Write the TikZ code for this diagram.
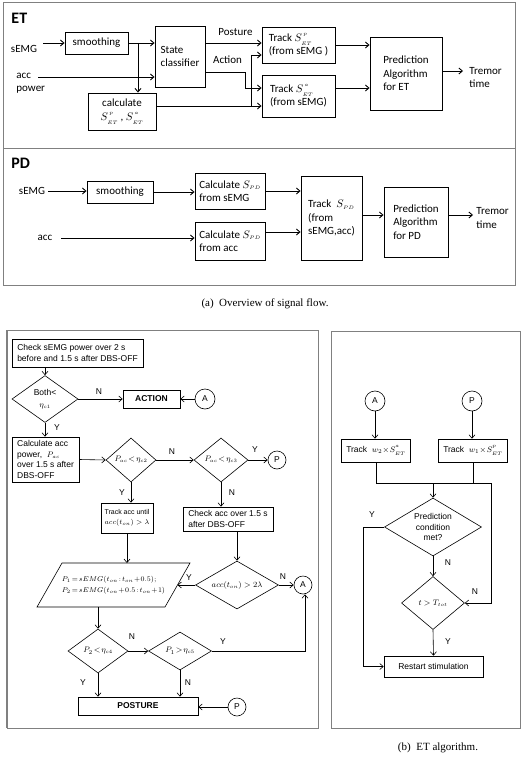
\documentclass[tikz,border=0pt]{standalone}
\usepackage{fontspec}
\setmainfont{Carlito}
\newfontfamily\arial{Liberation Sans}
\newfontfamily\timesf{Liberation Serif}
\usetikzlibrary{arrows.meta,shapes.geometric}
\newcommand{\sx}[1]{{\scriptscriptstyle #1}}
\newcommand{\supx}[1]{\raisebox{1.8pt}{$\scriptscriptstyle #1$}}
\newcommand{\subx}[1]{\raisebox{-1.2pt}{$\scriptscriptstyle #1$}}
\begin{document}
\begin{tikzpicture}[x=1pt,y=-1pt,
  >={Straight Barb[length=3.5pt,width=6pt]},
  line width=0.9pt,
  box/.style={draw, inner sep=0pt, align=left, font=\fontsize{11}{13.5}\selectfont},
  lbl/.style={inner sep=0pt, align=left, font=\fontsize{11}{13.5}\selectfont},
  headtxt/.style={inner sep=0pt, anchor=west, font=\bfseries\fontsize{16}{18}\selectfont},
  fbox/.style={draw, inner sep=0pt, line width=0.6pt, font=\arial\fontsize{8.5}{10.5}\selectfont},
  fl/.style={inner sep=0pt, font=\arial\fontsize{8.5}{10.5}\selectfont},
  dtxt/.style={inner sep=0pt, font=\arial\fontsize{8}{9.5}\selectfont},
  dia/.style={draw, diamond, inner sep=0pt, line width=0.6pt},
  circ/.style={draw, circle, inner sep=0pt, minimum size=19pt, line width=0.6pt, font=\arial\fontsize{8.5}{10}\selectfont},
  thinln/.style={line width=0.6pt},
  frame/.style={draw=gray, line width=1pt},
  captxt/.style={inner sep=0pt, font=\timesf\fontsize{11}{13}\selectfont},
]
\useasboundingbox (0,0) rectangle (525,757);

% ---------------- (a) top panel ----------------
\draw[frame] (3,3) rectangle (515,285);
\draw[frame] (3,148) -- (515,148);

% ET
\node[headtxt] (etlabel) at (11,18) {ET};
\node[lbl] (semg1) at (24,49) {sEMG};
\node[lbl, anchor=west] (accp) at (16,83) {acc\\power};
\node[box, minimum width=63pt, minimum height=22pt] (sm1) at (96.5,43) {smoothing};
\node[box, minimum width=50pt, minimum height=61pt] (sc) at (180,56.5) {State\\classifier};
\node[box, minimum width=68pt, minimum height=37pt, align=center] (calc) at (122,111.5) {calculate\\$S^{\,\supx{p}}_{\subx{ET}}$ , $S^{\,\supx{a}}_{\subx{ET}}$};
\node[lbl] (post) at (235.5,32) {Posture};
\node[lbl] (act) at (227.5,60) {Action};
\node[box, minimum width=73pt, minimum height=36pt] (t1) at (298.5,45) {Track $S^{\,\supx{p}}_{\subx{ET}}$\\(from sEMG )};
\node[box, minimum width=73pt, minimum height=42pt] (t2) at (298.5,96) {Track $S^{\,\supx{a}}_{\subx{ET}}$\\(from sEMG)};
\node[box, minimum width=72pt, minimum height=73pt] (pr1) at (406,73.5) {Prediction\\Algorithm\\for ET};
\node[lbl, anchor=west] (trem1) at (469,77.5) {Tremor\\time};

\coordinate (semgin) at (43,43);
\draw[->] (semgin) -- (semgin -| sm1.west);
\draw[->] (sm1.east) -- (sm1.east -| sc.west);
\coordinate (br) at (138,43);
\draw[->] (br) -- (br |- calc.north);
\coordinate (accin) at (38,77);
\draw[->] (accin) -- (accin -| sc.west);
\coordinate (sp) at (205,43);
\draw[->] (sp) -- (sp -| t1.west);
\coordinate (sa) at (205,72);
\coordinate (sab) at (245,88);
\draw[->] (sa) -| (sab) -- (sab -| t2.west);
\coordinate (co) at (156,106);
\coordinate (cj) at (251,106);
\coordinate (cu) at (251,55);
\draw[->] (co) -- (co -| t2.west);
\draw[->] (cj) -- (cu) -- (cu -| t1.west);
\draw[->] (t1.east) -- (t1.east -| pr1.west);
\coordinate (t2o) at (335,88);
\draw[->] (t2o) -- (t2o -| pr1.west);
\coordinate (pro) at (442,71);
\coordinate (proe) at (463,71);
\draw[->] (pro) -- (proe);

% PD
\node[headtxt] (pdlabel) at (11,163) {PD};
\node[lbl] (semg2) at (32,191) {sEMG};
\node[lbl] (acc2) at (45,238) {acc};
\node[box, minimum width=66pt, minimum height=22pt] (sm2) at (120,192) {smoothing};
\node[box, minimum width=70pt, minimum height=36pt] (c1) at (230,191) {Calculate $S_{\sx{PD}}$\\from sEMG};
\node[box, minimum width=70pt, minimum height=38pt] (c2) at (230,241) {Calculate $S_{\sx{PD}}$\\from acc};
\node[box, minimum width=61pt, minimum height=84pt] (tpd) at (331.5,218) {Track\ \ $S_{\sx{PD}}$\\(from\\sEMG,acc)};
\node[box, minimum width=64pt, minimum height=70pt] (ppd) at (416,222) {Prediction\\Algorithm\\for PD};
\node[lbl, anchor=west] (trem2) at (476,218) {Tremor\\time};

\coordinate (s2in) at (48,191);
\draw[->] (s2in) -- (s2in -| sm2.west);
\draw[->] (sm2.east) -- (sm2.east -| c1.west);
\coordinate (a2in) at (61,238);
\draw[->] (a2in) -- (a2in -| c2.west);
\draw[->] (c1.east) -- (c1.east -| tpd.west);
\coordinate (c2o) at (265,232);
\draw[->] (c2o) -- (c2o -| tpd.west);
\coordinate (tpo) at (362,215);
\draw[->] (tpo) -- (tpo -| ppd.west);
\coordinate (ppo) at (448,215);
\coordinate (ppe) at (473,215);
\draw[->] (ppo) -- (ppe);

\node[captxt] (capa) at (265,304) {(a)\ \ Overview of signal flow.};

% ---------------- (b) left flowchart ----------------
\draw[frame] (7,330) rectangle (318,728);
\draw[draw=gray, line width=1.8pt] (7,330) -- (7,728);

\node[fbox, minimum width=131pt, minimum height=28pt, align=left] (chk) at (77.5,353) {Check sEMG power over 2 s\\before and 1.5 s after DBS-OFF};
\node[dia, minimum width=66pt, minimum height=47pt] (d1) at (45,399) {};
\node[fl, align=center] (d1t) at (d1) {Both<\\[1pt]$\eta_{\sx{c1}}$};
\node[fbox, minimum width=57pt, minimum height=18pt, font=\arial\bfseries\fontsize{8.5}{10}\selectfont] (act2) at (151.5,399) {ACTION};
\node[circ, minimum size=20pt] (ca1) at (205,399) {A};
\draw[thinln,->] (d1.north |- chk.south) -- (d1.north);
\draw[thinln,->] (d1.east) -- (act2.west);
\draw[thinln,->] (ca1.west) -- (act2.east);
\node[fl] (n1) at (99,392) {N};

\node[fbox, minimum width=67pt, minimum height=45pt, align=left] (cacc) at (45.5,459.5) {Calculate acc\\power,\ \ $P_{\sx{ac}}$\\over 1.5 s after\\DBS-OFF};
\draw[thinln,->] (d1.south) -- (d1.south |- cacc.north);
\node[fl] (y1) at (57,428) {Y};

\node[dia, minimum width=50pt, minimum height=44pt] (d2) at (131,460) {};
\node[dtxt] (d2t) at (d2) {$P_{\sx{ac}}\!<\!\eta_{\sx{c2}}$};
\node[dia, minimum width=54pt, minimum height=44pt] (d3) at (221,460) {};
\node[dtxt] (d3t) at (d3) {$P_{\sx{ac}}\!<\!\eta_{\sx{c3}}$};
\node[circ, minimum size=18pt] (cp1) at (277,460) {P};
\draw[thinln,->] (cacc.east) -- (d2.west);
\draw[thinln,->] (d2.east) -- (d3.west);
\draw[thinln,->] (d3.east) -- (cp1.west);
\node[fl] (n2) at (172,452) {N};
\node[fl] (y2) at (255,450) {Y};

\node[fbox, minimum width=52pt, minimum height=30pt, align=center, font=\arial\fontsize{7}{10}\selectfont] (tacc) at (127,518) {Track acc until\\$acc(t_{\sx{on}})>\lambda$};
\draw[thinln,->] (d2.south) -- (d2.south |- tacc.north);
\node[fl] (y3) at (122,493) {Y};
\node[fbox, minimum width=90pt, minimum height=24pt, align=left] (cka) at (228,519) {Check acc over 1.5 s\\after DBS-OFF};
\draw[thinln,->] (d3.south) -- (d3.south |- cka.north);
\node[fl] (n3) at (232,493) {N};

\node[dia, minimum width=83pt, minimum height=48pt] (d4) at (237,585) {};
\node[dtxt] (d4t) at (d4) {$acc(t_{\sx{on}}) > 2\lambda$};
\draw[thinln,->] (d4.north |- cka.south) -- (d4.north);
\node[circ, minimum size=18pt] (ca2) at (303,585) {A};
\draw[thinln,->] (d4.east) -- (ca2.west);
\node[fl] (n4) at (283,577) {N};

\coordinate (pa) at (62,563);
\coordinate (pb) at (190,563);
\coordinate (pc) at (165,607);
\coordinate (pd) at (37,607);
\draw[thinln] (pa) -- (pb) -- (pc) -- (pd) -- cycle;
\node[inner sep=0pt, align=left, font=\arial\fontsize{7.5}{11}\selectfont] (ptxt) at (113.5,585) {$P_1\!=\!sEMG(t_{\sx{on}}\!:\!t_{\sx{on}}\!+\!0.5);$\\$P_2\!=\!sEMG(t_{\sx{on}}\!+\!0.5\!:\!t_{\sx{on}}\!+\!1)$};
\coordinate (pin) at (177.5,585);
\draw[thinln,->] (d4.west) -- (pin);
\node[fl] (y4) at (189,578) {Y};
\coordinate (ptop) at (127,563);
\draw[thinln,->] (tacc.south) -- (ptop);

\coordinate (pbot) at (98,607);
\node[dia, minimum width=60pt, minimum height=44pt] (d5) at (98,651) {};
\node[dtxt] (d5t) at (d5) {$P_2\!<\!\eta_{\sx{c4}}$};
\node[dia, minimum width=63pt, minimum height=38pt] (d6) at (180,651) {};
\node[dtxt] (d6t) at (d6) {$P_1\!>\!\eta_{\sx{c5}}$};
\draw[thinln,->] (pbot) -- (d5.north);
\draw[thinln,->] (d5.east) -- (d6.west);
\node[fl] (n5) at (132,637) {N};
\coordinate (yr) at (305,651);
\draw[thinln,->] (d6.east) -- (yr) -- (yr |- ca2.south);
\node[fl] (y5) at (223,642) {Y};

\node[fbox, minimum width=120pt, minimum height=18pt, font=\arial\bfseries\fontsize{8.5}{10}\selectfont] (post2) at (138,706) {POSTURE};
\draw[thinln,->] (d5.south) -- (d5.south |- post2.north);
\draw[thinln,->] (d6.south) -- (d6.south |- post2.north);
\node[fl] (y6) at (83,683) {Y};
\node[fl] (n6) at (188,683) {N};
\node[circ, minimum size=18pt] (cp2) at (237,707) {P};
\draw[thinln,->] (cp2.west) -- (cp2.west -| post2.east);

% ---------------- (b) right flowchart ----------------
\draw[frame] (331,331) rectangle (520,728);
\node[circ, minimum size=20pt] (ca3) at (375,401) {A};
\node[circ, minimum size=20pt] (cp3) at (472,401) {P};
\node[fbox, minimum width=69pt, minimum height=23pt] (tw2) at (376,450.5) {Track\ \ $w_2\!\times\! S^{\supx{a}}_{\subx{ET}}$};
\node[fbox, minimum width=69pt, minimum height=23pt] (tw1) at (473,450.5) {Track\ \ $w_1\!\times\! S^{\supx{p}}_{\subx{ET}}$};
\draw[thinln,->] (ca3.south) -- (ca3.south |- tw2.north);
\draw[thinln,->] (cp3.south) -- (cp3.south |- tw1.north);

\node[dia, minimum width=97pt, minimum height=58pt] (d8) at (433,527) {};
\node[fl, align=center] (d8t) at (d8) {Prediction\\condition\\met?};
\node[dia, minimum width=63pt, minimum height=53pt] (d7) at (433,603) {};
\node[dtxt] (d7t) at (d7) {$t > T_{\sx{tot}}$};
\node[fbox, minimum width=99pt, minimum height=21pt] (rs) at (433.5,666.5) {Restart stimulation};

\coordinate (j1) at (376,483);
\coordinate (j2) at (491,483);
\coordinate (jm) at (433,483);
\draw[thinln] (tw2.south) -- (j1) -- (j2);
\draw[thinln] (tw1.south) -- (tw1.south |- j1);
\draw[thinln,->] (jm) -- (d8.north);
\draw[thinln,->] (j2) -- (j2 |- d7.east) -- (d7.east);
\coordinate (yl) at (363,527);
\draw[thinln,->] (d8.west) -- (yl) |- (rs.west);
\draw[thinln,->] (d8.south) -- (d7.north);
\draw[thinln,->] (d7.south) -- (rs.north);
\node[fl] (y7) at (372,515) {Y};
\node[fl] (n7) at (448,563) {N};
\node[fl] (n8) at (475,592) {N};
\node[fl] (y8) at (448,642) {Y};

\node[captxt] (capb) at (438,748) {(b)\ \ ET algorithm.};
\end{tikzpicture}
\end{document}
